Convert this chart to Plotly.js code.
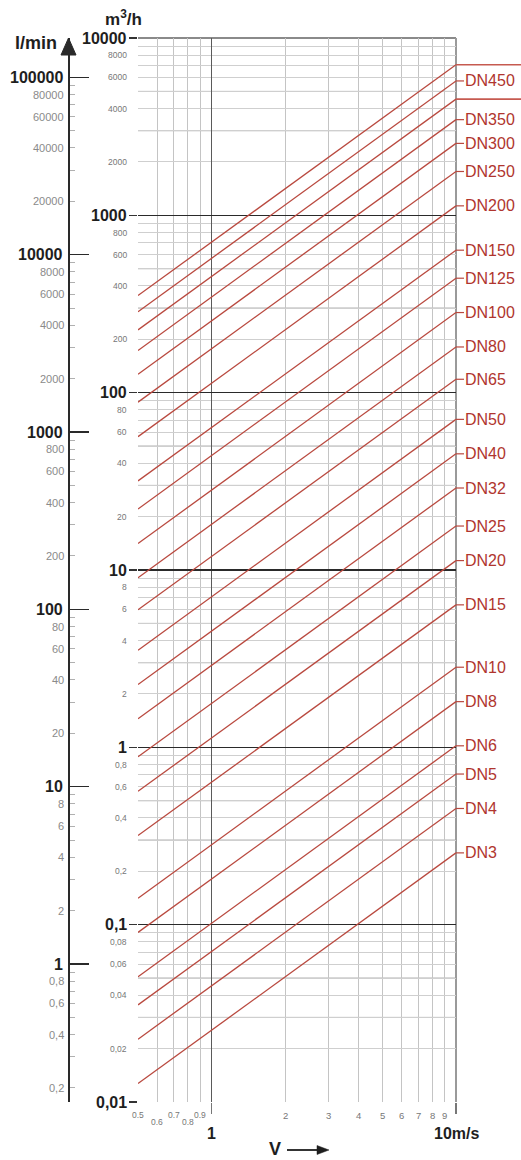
<!DOCTYPE html>
<html>
<head>
<meta charset="utf-8">
<script src="https://cdn.plot.ly/plotly-3.0.1.min.js"></script>
<style>html,body{margin:0;padding:0;background:#fff;}#chart{width:521px;height:1160px;}</style>
</head>
<body>
<div id="chart"></div>
<script>
// ---- data ----
const velocityEnds = [0.5, 10]; // m/s, where each DN line starts and ends
const dnNames = ['DN3','DN4','DN5','DN6','DN8','DN10','DN15','DN20','DN25','DN32','DN40','DN50',
  'DN65','DN80','DN100','DN125','DN150','DN200','DN250','DN300','DN350','DN400','DN450','DN500'];
const flowAtStart = [0.0127,0.0226,0.0353,0.0509,0.0905,0.141,0.318,0.565,0.884,1.45,2.26,3.53,
  5.97,9.05,14.1,22.1,31.8,56.5,88.4,127,173,226,286,353];      // m3/h at 0.5 m/s
const flowAtEnd = [0.254,0.452,0.707,1.02,1.81,2.83,6.36,11.3,17.7,29.0,45.2,70.7,
  119,181,283,442,636,1131,1767,2545,3464,4524,5726,7069];        // m3/h at 10 m/s
const unlabeled = ['DN400','DN500'];

const m3hMajor = [0.01,0.1,1,10,100,1000,10000];
const m3hMajorText = ['0,01','0,1','1','10','100','1000','10000'];
const m3hMinor = [0.02,0.04,0.06,0.08,0.2,0.4,0.6,0.8,2,4,6,8,20,40,60,80,200,400,600,800,2000,4000,6000,8000];
const m3hMinorText = ['0,02','0,04','0,06','0,08','0,2','0,4','0,6','0,8','2','4','6','8','20','40','60','80','200','400','600','800','2000','4000','6000','8000'];
const lminMajor = [1,10,100,1000,10000,100000];
const lminMajorText = ['1','10','100','1000','10000','100000'];
const lminMinor = [0.2,0.4,0.6,0.8,2,4,6,8,20,40,60,80,200,400,600,800,2000,4000,6000,8000,20000,40000,60000,80000];
const lminMinorText = ['0,2','0,4','0,6','0,8','2','4','6','8','20','40','60','80','200','400','600','800','2000','4000','6000','8000','20000','40000','60000','80000'];
const vLow = [0.5,0.6,0.7,0.8,0.9];
const vLowText = ['0.5','0.6','0.7','0.8','0.9'];
const vMid = [2,3,4,5,6,7,8,9];
const vMidText = ['2','3','4','5','6','7','8','9'];
const lminPerM3h = 1000/60;

// ---- geometry helpers ----
const W = 521, H = 1160, ML = 0, MR = 65, MT = 38, MB = 58;
const PW = W - ML - MR, PH = H - MT - MB;
const px = v => (v - ML) / PW;          // pixel x -> paper x
const py = v => (H - MB - v) / PH;      // pixel y -> paper y
const FONT = 'Liberation Sans, Arial, sans-serif';
const RED = '#b9493f';
const LABELRED = '#b0352e';
const INK = '#1e1e1e';

// minor gridline/tick positions (digits 2..9 in each decade)
function digitsIn(lo, hi) {
  const out = [];
  for (let d = lo; d < hi; d *= 10) for (let k = 2; k <= 9; k++) out.push(+(k * d).toPrecision(3));
  return out;
}

const traces = dnNames.map((n, i) => ({
  type: 'scatter', mode: 'lines', name: n,
  x: velocityEnds, y: [flowAtStart[i], flowAtEnd[i]],
  line: {color: RED, width: 1.3}, hoverinfo: 'skip', showlegend: false
}));

const shapes = [];
const annotations = [];

// medium gridlines at 3 and 5 multiples
[0.01,0.1,1,10,100,1000].forEach(d => {
  [3,5].forEach(k => shapes.push({type:'line', layer:'between', xref:'paper', x0:px(138), x1:1,
    yref:'y', y0:k*d, y1:k*d, line:{color:'#a8a8a8', width:1}}));
});
// top border and right border
shapes.push({type:'line', layer:'between', xref:'paper', x0:px(138), x1:1, yref:'paper', y0:1, y1:1, line:{color:'#8a8a8a', width:2}});
shapes.push({type:'line', layer:'between', xref:'paper', x0:1, x1:1, yref:'paper', y0:0, y1:1, line:{color:'#9a9a9a', width:2}});

// DN labels and leaders
dnNames.forEach((n, i) => {
  const y = flowAtEnd[i];
  if (unlabeled.includes(n)) {
    shapes.push({type:'line', xref:'paper', xsizemode:'pixel', xanchor:1, x0:0, x1:MR + 2,
      yref:'y', y0:y, y1:y, line:{color:'#c65a50', width:1.6}});
  } else {
    shapes.push({type:'line', xref:'paper', xsizemode:'pixel', xanchor:1, x0:0, x1:8,
      yref:'y', y0:y, y1:y, line:{color:RED, width:1.2}});
    annotations.push({xref:'paper', x:1, xshift:7, xanchor:'left', yref:'y', y:Math.log10(y),
      yanchor:'middle', text:n, showarrow:false, font:{family:FONT, size:16, color:LABELRED}});
  }
});

// m3/h labels
m3hMajor.forEach((v, i) => annotations.push({xref:'paper', x:px(129), xanchor:'right', yref:'y', y:Math.log10(v),
  yanchor:'middle', text:'<b>' + m3hMajorText[i] + '</b>', showarrow:false, font:{family:FONT, size:16, color:INK}}));
m3hMinor.forEach((v, i) => annotations.push({xref:'paper', x:px(129), xanchor:'right', yref:'y', y:Math.log10(v),
  yanchor:'middle', text:m3hMinorText[i], showarrow:false, font:{family:FONT, size:8.5, color:'#777'}}));

// l/min labels
lminMajor.forEach((v, i) => annotations.push({xref:'paper', x:px(65), xanchor:'right', yref:'y2', y:Math.log10(v),
  yanchor:'middle', text:'<b>' + lminMajorText[i] + '</b>', showarrow:false, font:{family:FONT, size:16, color:INK}}));
lminMinor.forEach((v, i) => annotations.push({xref:'paper', x:px(66), xanchor:'right', yref:'y2', y:Math.log10(v),
  yanchor:'middle', text:lminMinorText[i], showarrow:false, font:{family:FONT, size:11, color:'#8a8a8a'}}));

// velocity labels
vLow.forEach((v, i) => annotations.push({xref:'x', x:Math.log10(v), yref:'paper', y:0, yanchor:'middle',
  yshift: (i % 2 === 1) ? -20 : -13, text:vLowText[i], showarrow:false, font:{family:FONT, size:8.5, color:'#777'}}));
vMid.forEach((v, i) => annotations.push({xref:'x', x:Math.log10(v), yref:'paper', y:0, yanchor:'middle',
  yshift:-13, text:vMidText[i], showarrow:false, font:{family:FONT, size:9.5, color:'#777'}}));
annotations.push({xref:'x', x:0, yref:'paper', y:0, yanchor:'middle', yshift:-31, text:'<b>1</b>',
  showarrow:false, font:{family:FONT, size:16, color:INK}});
annotations.push({xref:'x', x:1, yref:'paper', y:0, yanchor:'middle', yshift:-31, text:'<b>10m/s</b>',
  showarrow:false, font:{family:FONT, size:16, color:INK}});
annotations.push({xref:'paper', x:px(275), yref:'paper', y:py(1149), yanchor:'middle', xanchor:'center', text:'<b>V</b>',
  showarrow:false, font:{family:FONT, size:18, color:INK}});
// arrow after V
shapes.push({type:'line', xref:'paper', x0:px(287), x1:px(318), yref:'paper', y0:py(1150), y1:py(1150),
  line:{color:INK, width:1.8}});
shapes.push({type:'path', xref:'paper', xsizemode:'pixel', xanchor:px(329), yref:'paper', ysizemode:'pixel', yanchor:py(1150),
  path:'M0,0 L-12,4.5 L-12,-4.5 Z', fillcolor:INK, line:{color:INK, width:0.5}});

// axis titles
annotations.push({xref:'paper', x:px(13), xanchor:'left', yref:'paper', y:1, yshift:-5, yanchor:'middle',
  text:'<b>l/min</b>', showarrow:false, font:{family:FONT, size:18, color:INK}});
annotations.push({xref:'paper', x:px(123), xanchor:'center', yref:'paper', y:1, yshift:20, yanchor:'middle',
  text:'<b>m<sup>3</sup>/h</b>', showarrow:false, font:{family:FONT, size:17, color:INK}});

// arrowhead on the l/min axis
shapes.push({type:'path', xref:'paper', xsizemode:'pixel', xanchor:px(68.5), yref:'paper', ysizemode:'pixel', yanchor:1,
  path:'M-7.5,-17 L7.5,-17 L0,0 Z', fillcolor:'#2a2a2a', line:{color:'#2a2a2a', width:1}});

const layout = {
  width: W, height: H,
  margin: {l: ML, r: MR, t: MT, b: MB, pad: 0},
  paper_bgcolor: '#fff', plot_bgcolor: '#fff',
  showlegend: false,
  font: {family: FONT},
  xaxis: {
    type: 'log', domain: [px(138), 1], range: [Math.log10(0.5), 1],
    tickvals: [1, 10], showticklabels: false, ticks: 'outside', ticklen: 11, tickwidth: 1.2, tickcolor: '#777',
    showgrid: true, gridcolor: '#5a5a5a', gridwidth: 1.2, zeroline: false, showline: false,
    minor: {tickvals: [0.5,0.6,0.7,0.8,0.9,2,3,4,5,6,7,8,9], showgrid: true, gridcolor: '#c4c4c4', gridwidth: 1, ticks: ''}
  },
  yaxis: {
    type: 'log', domain: [0, 1], range: [-2, 4],
    tickvals: m3hMajor, showticklabels: false, ticks: 'outside', ticklen: 8, tickwidth: 1.3, tickcolor: '#333',
    showgrid: true, gridcolor: '#2a2a2a', gridwidth: 1.3, zeroline: false, showline: false,
    minor: {tickvals: digitsIn(0.01, 10000), showgrid: true, gridcolor: '#cfcfcf', gridwidth: 1, ticks: ''}
  },
  yaxis2: {
    type: 'log', overlaying: 'y', anchor: 'free', position: px(68.5), side: 'left',
    range: [Math.log10(0.01 * lminPerM3h), Math.log10(10000 * lminPerM3h)],
    showgrid: false, zeroline: false, showline: true, linecolor: '#2a2a2a', linewidth: 2.5,
    tickvals: lminMajor, ticks: 'inside', ticklen: 19, tickwidth: 1.6, tickcolor: '#2a2a2a', showticklabels: false,
    minor: {tickvals: digitsIn(0.1, 100000).filter(v => v >= 0.17), ticks: 'inside', ticklen: 5, tickwidth: 1, tickcolor: '#b0b0b0', showgrid: false}
  },
  shapes: shapes,
  annotations: annotations
};

// invisible anchor trace so the l/min axis is registered
traces.push({type:'scatter', mode:'none', x:[null], y:[null], yaxis:'y2', hoverinfo:'skip', showlegend:false});

Plotly.newPlot('chart', traces, layout, {staticPlot: true, displayModeBar: false});
</script>
</body>
</html>
